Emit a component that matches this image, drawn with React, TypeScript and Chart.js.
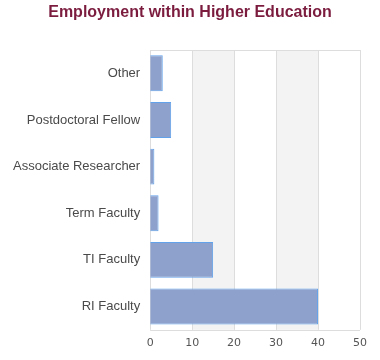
import React, { useEffect, useRef } from "react";
import { Chart, registerables } from "chart.js";

Chart.register(...registerables);

const chartTitle = "Employment within Higher Education";
const categories = ["Other", "Postdoctoral Fellow", "Associate Researcher", "Term Faculty", "TI Faculty", "RI Faculty"];
const counts = [3, 5, 1, 2, 15, 40];
const xTicks = [0, 10, 20, 30, 40, 50];

const bandsPlugin = {
  id: "bands",
  beforeDatasetsDraw(chart: any) {
    const { ctx, chartArea, scales } = chart;
    const x = scales.x;
    ctx.save();
    ctx.fillStyle = "#f3f3f3";
    for (let i = 1; i < xTicks.length - 1; i += 2) {
      const a = x.getPixelForValue(xTicks[i]);
      const b = x.getPixelForValue(xTicks[i + 1]);
      ctx.fillRect(a, chartArea.top, b - a, chartArea.bottom - chartArea.top);
    }
    ctx.strokeStyle = "#dddddd";
    ctx.lineWidth = 1;
    for (const t of xTicks) {
      const p = Math.round(x.getPixelForValue(t)) + 0.5;
      ctx.beginPath();
      ctx.moveTo(p, chartArea.top);
      ctx.lineTo(p, chartArea.bottom);
      ctx.stroke();
    }
    ctx.beginPath();
    ctx.moveTo(chartArea.left, Math.round(chartArea.top) + 0.5);
    ctx.lineTo(chartArea.right, Math.round(chartArea.top) + 0.5);
    ctx.moveTo(chartArea.left, Math.round(chartArea.bottom) + 0.5);
    ctx.lineTo(chartArea.right, Math.round(chartArea.bottom) + 0.5);
    ctx.stroke();
    ctx.restore();
  },
};

const titlePlugin = {
  id: "centerTitle",
  afterDraw(chart: any) {
    const { ctx, width } = chart;
    ctx.save();
    ctx.fillStyle = "#7b1c3e";
    ctx.font = "bold 16px 'Liberation Sans'";
    ctx.textAlign = "center";
    ctx.textBaseline = "middle";
    ctx.fillText(chartTitle, width / 2, 13);
    ctx.restore();
  },
};

export default function App() {
  const ref = useRef<HTMLCanvasElement>(null);
  useEffect(() => {
    document.body.style.margin = "0";
    const chart = new Chart(ref.current!, {
      type: "bar",
      data: {
        labels: categories,
        datasets: [
          {
            data: counts,
            backgroundColor: "#8da1cc",
            borderColor: "#62a2ea",
            borderWidth: 1,
            barPercentage: 0.77,
            categoryPercentage: 1,
          },
        ],
      },
      options: {
        indexAxis: "y",
        responsive: false,
        animation: false,
        layout: { padding: { left: 3, right: 20, top: 50, bottom: 3 } },
        plugins: {
          legend: { display: false },
          tooltip: { enabled: false },
          title: { display: false },
        },
        scales: {
          x: {
            min: 0,
            max: 50,
            ticks: { stepSize: 10, color: "#555555", font: { family: "DejaVu Sans", size: 11 }, padding: 7 },
            grid: { display: false, drawTicks: false },
            border: { display: false },
          },
          y: {
            ticks: { color: "#4a4a4a", font: { family: "Liberation Sans", size: 13 }, padding: 10 },
            grid: { display: false, drawTicks: false },
            border: { display: false },
          },
        },
      },
      plugins: [bandsPlugin, titlePlugin],
    });
    return () => chart.destroy();
  }, []);
  return <canvas ref={ref} width={380} height={360} style={{ display: "block" }} />;
}
